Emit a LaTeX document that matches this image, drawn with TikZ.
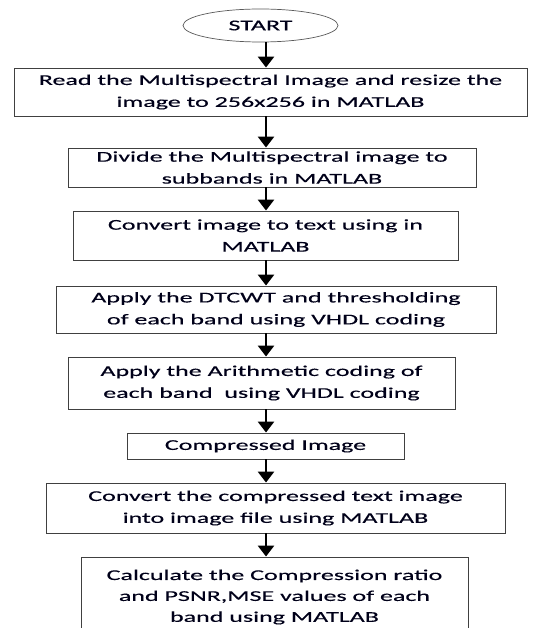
\documentclass[tikz,border=0pt]{standalone}
\usepackage{fontspec}
\setmainfont[FakeStretch=1.74,FakeBold=0.3]{Carlito}
\usetikzlibrary{arrows.meta,shapes.geometric}
\begin{document}
\begin{tikzpicture}[x=1bp,y=-1bp,
  box/.style={draw=black!75,line width=0.9bp,inner sep=0pt,align=center,
    text=black!90!blue,font=\fontsize{15}{22}\selectfont},
  arr/.style={line width=2.8bp,-{Triangle[width=16bp,length=11bp]}}]
\useasboundingbox (0,0) rectangle (535,628);
\clip (0,0) rectangle (535,628);
\fill[white] (0,0) rectangle (535,628);
\node[ellipse,draw=black!65,line width=0.7bp,minimum width=155bp,minimum height=33bp,inner sep=0pt,
  text=black!90!blue,font=\fontsize{15}{22}\selectfont] (start) at (260.5,25.5) {START};
\node[box,minimum width=513bp,minimum height=48bp] (b1) at (270.5,92)
  {Read the Multispectral Image and resize the\\image to 256x256 in MATLAB};
\node[box,minimum width=408bp,minimum height=39bp] (b2) at (272,167.5)
  {Divide the Multispectral image to\\subbands in MATLAB};
\node[box,minimum width=385bp,minimum height=49bp] (b3) at (265.5,235.5)
  {Convert image to text using in\\MATLAB};
\node[box,minimum width=440bp,minimum height=47bp] (b4) at (276,309.5)
  {Apply the DTCWT and thresholding\\of each band using VHDL coding};
\node[box,minimum width=387bp,minimum height=52bp] (b5) at (261.5,383)
  {Apply the Arithmetic coding of\\each band\ \ using VHDL coding};
\node[box,minimum width=277bp,minimum height=26bp] (b6) at (265.5,446)
  {Compressed Image};
\node[box,minimum width=459bp,minimum height=50bp] (b7) at (275.5,508)
  {Convert the compressed text image\\into image file using MATLAB};
\node[box,minimum width=387bp,minimum height=80bp,font=\fontsize{15}{21}\selectfont] (b8) at (274.5,597)
  {Calculate the Compression ratio\\and PSNR,MSE values of each\\band using MATLAB};
\coordinate (ax) at (266,0);
\draw[arr] (ax |- start.south) -- (ax |- b1.north);
\draw[arr] (ax |- b1.south) -- (ax |- b2.north);
\draw[arr] (ax |- b2.south) -- (ax |- b3.north);
\draw[arr] (ax |- b3.south) -- (ax |- b4.north);
\draw[arr] (ax |- b4.south) -- (ax |- b5.north);
\draw[arr] (ax |- b5.south) -- (ax |- b6.north);
\draw[arr] (ax |- b6.south) -- (ax |- b7.north);
\draw[arr] (ax |- b7.south) -- (ax |- b8.north);
\end{tikzpicture}
\end{document}
